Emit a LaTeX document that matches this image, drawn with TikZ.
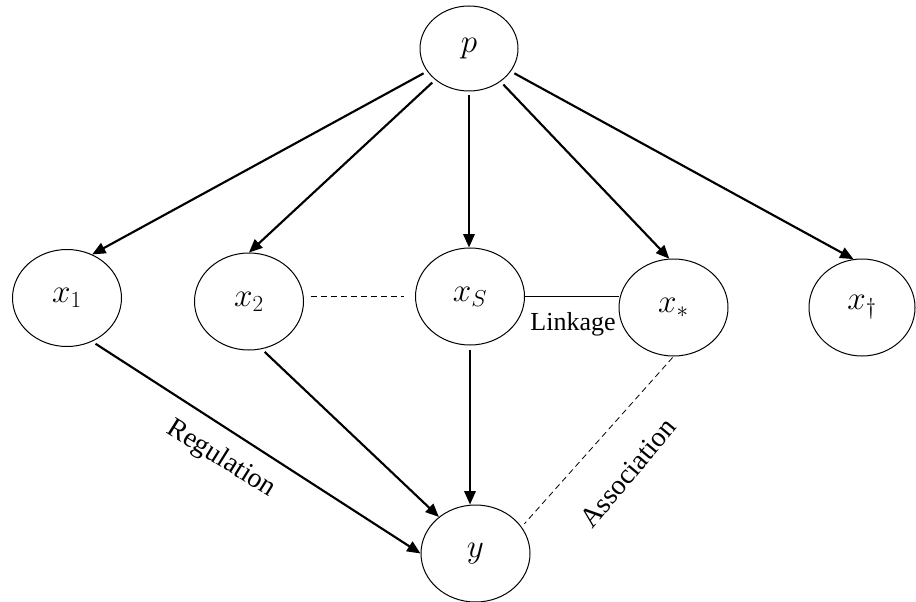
\documentclass[tikz,border=0pt]{standalone}
\usepackage{fontspec}
\setmainfont{Liberation Serif}
\usetikzlibrary{shapes.geometric,arrows.meta}
\begin{document}
\begin{tikzpicture}[x=0.75pt,y=-0.75pt,
  var/.style={draw, ellipse, line width=0.75pt, inner sep=0pt,
    minimum width=81.75pt, minimum height=72.75pt,
    font=\fontsize{24}{28}\selectfont},
  arr/.style={line width=1.6pt, -{Triangle[length=10pt,width=8.5pt]}, shorten <=3pt},
  dline/.style={line width=0.6pt, dash pattern=on 4.5pt off 3pt},
  sline/.style={line width=0.75pt},
  lbl/.style={font=\fontsize{19.5}{23}\selectfont, inner sep=0pt},
  rlbl/.style={font=\fontsize{21}{25}\selectfont, inner sep=0pt}]
\useasboundingbox (0,0) rectangle (916,602);
\node[var, minimum width=73.5pt, minimum height=63.75pt] (p) at (469,48.5) {$p$};
\node[var] (x1) at (67,298) {$x_1$};
\node[var] (x2) at (249,301.5) {$x_2$};
\node[var] (xs) at (470,296.5) {$x_S$};
\node[var] (xa) at (673.5,307.5) {$x_*$};
\node[var, minimum width=79.5pt] (xd) at (862,307.5) {$x_\dagger$};
\node[var] (y) at (475.5,553.5) {$y$};

\draw[arr] (p) -- (x1.60);
\draw[arr] (p) -- (x2.north);
\draw[arr] (p.south) -- (p.south |- xs.north);
\draw[arr] (p) -- (xa.95);
\draw[arr] (p) -- (xd.100);
\draw[arr] (x1.-60) -- (y.west);
\draw[arr] (x2.-75) -- (y.135);
\draw[arr] (xs.south) -- (xs.south |- y.north);

\draw[dline, shorten <=5pt, shorten >=8pt] (x2.east |- xs.west) -- (xs.west);
\draw[sline] (xs.east) -- (xa.west |- xs.east);
\draw[dline, shorten <=1pt, shorten >=3pt] (xa.south) -- (y.30);

\node[lbl] (link) at (573,324) {Linkage};
\node[rlbl, rotate=-32] (reg) at (221,459) {Regulation};
\node[rlbl, rotate=50] (assoc) at (628,473) {Association};
\end{tikzpicture}
\end{document}
